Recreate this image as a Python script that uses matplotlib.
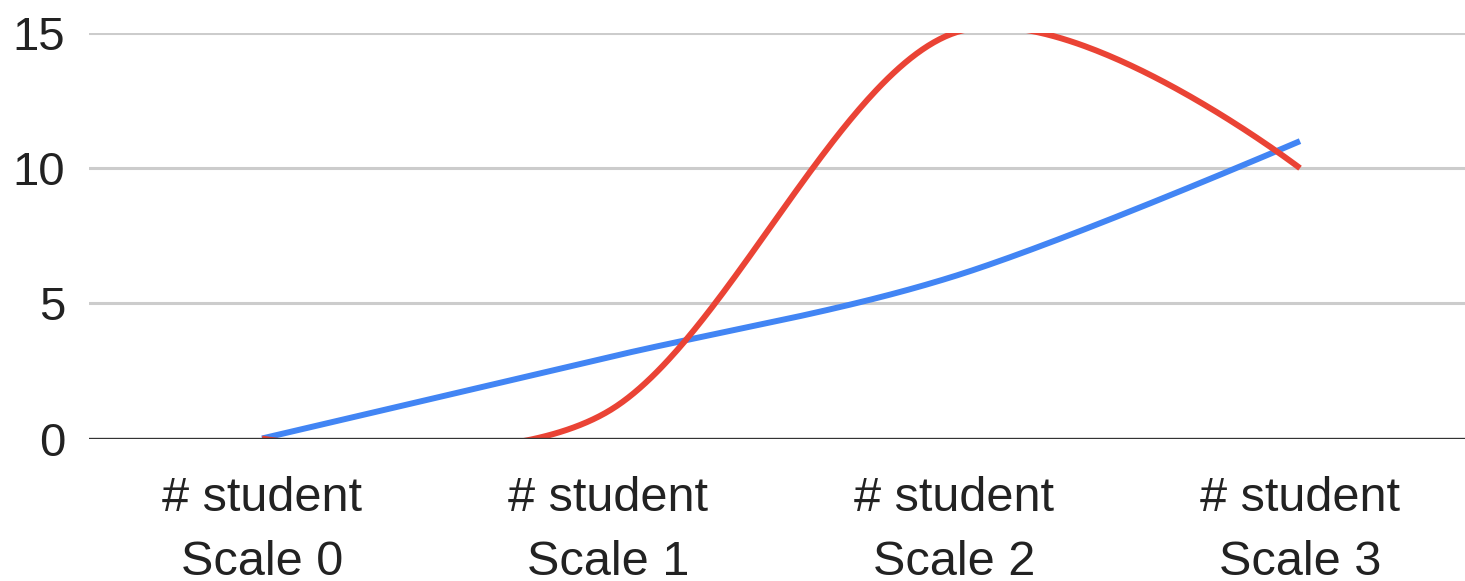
import numpy as np
import matplotlib
matplotlib.use("Agg")
import matplotlib.pyplot as plt

# Chart data
categories = ["# student\nScale 0", "# student\nScale 1", "# student\nScale 2", "# student\nScale 3"]
series_blue = [0, 3, 6, 11]
series_red = [0, 1, 15, 10]
y_ticks = [0, 5, 10, 15]

BLUE = "#4285F4"
RED = "#EA4335"

plt.rcParams["font.family"] = ["Liberation Sans", "DejaVu Sans"]


def smooth_curve(values, samples=120, k=1.0 / 6.0):
    """Piecewise cubic Bezier through the points; interior control points
    follow the neighbouring points, end control points sit on the ends."""
    p = np.column_stack([np.arange(len(values), dtype=float),
                         np.asarray(values, dtype=float)])
    n = len(p)
    out = []
    for i in range(n - 1):
        a, b = p[i], p[i + 1]
        c1 = a + (p[i + 1] - p[i - 1]) * k if i > 0 else a
        c2 = b - (p[i + 2] - p[i]) * k if i + 2 < n else b
        t = np.linspace(0, 1, samples, endpoint=(i == n - 2))[:, None]
        seg = ((1 - t) ** 3 * a + 3 * (1 - t) ** 2 * t * c1
               + 3 * (1 - t) * t ** 2 * c2 + t ** 3 * b)
        out.append(seg)
    pts = np.vstack(out)
    return pts[:, 0], pts[:, 1]


W, H = 1465, 581
fig = plt.figure(figsize=(W / 100, H / 100), dpi=100)
step = 346
left_px = 262 - step / 2
top_px, bottom_px = 33, 438.5
ax = fig.add_axes([left_px / W, 1 - bottom_px / H, 4 * step / W, (bottom_px - top_px) / H])

ax.set_xlim(-0.5, len(categories) - 0.5)
ax.set_ylim(0, 15)

for v in y_ticks[1:]:
    ax.axhline(v, color="#cccccc", lw=2.2, zorder=1)
ax.axhline(0, color="#333333", lw=2.4, zorder=5)

for vals, col in ((series_blue, BLUE), (series_red, RED)):
    cx, cy = smooth_curve(vals)
    ax.plot(cx, cy, color=col, lw=4.3, solid_capstyle="butt", zorder=3)

ax.set_yticks(y_ticks)
ax.set_yticklabels([str(v) for v in y_ticks])
ax.set_xticks(range(len(categories)))
ax.set_xticklabels(categories, linespacing=1.55)
ax.tick_params(axis="y", length=0, pad=17, labelsize=34, labelcolor="#222222")
ax.tick_params(axis="x", length=0, pad=27, labelsize=35, labelcolor="#222222")
for s in ax.spines.values():
    s.set_visible(False)

fig.savefig("out.png", dpi=100, facecolor="white")
